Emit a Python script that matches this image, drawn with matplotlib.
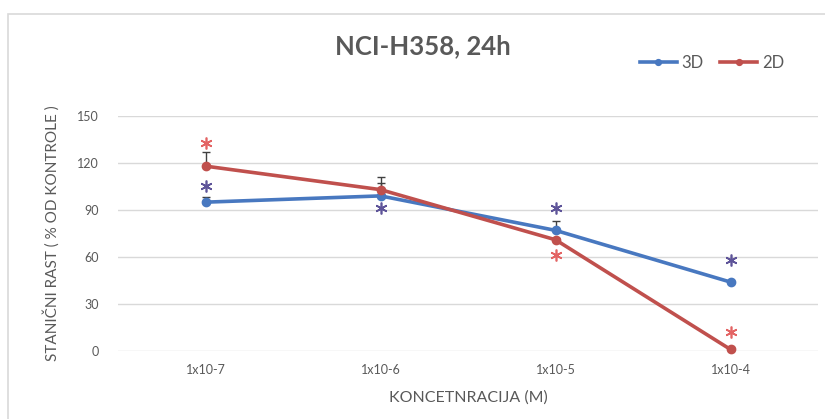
import numpy as np
import matplotlib
matplotlib.use('Agg')
import matplotlib.pyplot as plt
from matplotlib.patches import Rectangle

plt.rcParams['font.family'] = ['Lato', 'DejaVu Sans']

# data
categories = ['1x10-7', '1x10-6', '1x10-5', '1x10-4']
vals_3d = [95, 99, 77, 44]
vals_2d = [118, 103, 71, 1]
err_3d = [3, 8, 6, 1]
err_2d = [9, 8, 1, 1]
star_3d = [105, 91, 91, 58]
star_2d = [133, None, 61, 12]

blue = '#4878c0'
red = '#c0504d'
grey = '#595959'

fig = plt.figure(figsize=(8.25, 4.19), dpi=100)
# light frame like the excel chart area
fig.patches.append(Rectangle((8 / 825, -0.1), 1.2, 1 - 14 / 419 + 0.1,
                             transform=fig.transFigure, fill=False,
                             edgecolor='#d9d9d9', linewidth=1.2))

ax = fig.add_axes([118 / 825, 1 - 351 / 419, 700 / 825, 235 / 419])
x = np.arange(len(categories))

ax.errorbar(x, vals_3d, yerr=[np.zeros(4), err_3d], fmt='none',
            ecolor='#404040', capsize=3, elinewidth=1, zorder=2)
ax.errorbar(x, vals_2d, yerr=[np.zeros(4), err_2d], fmt='none',
            ecolor='#404040', capsize=3, elinewidth=1, zorder=2)
ax.plot(x, vals_3d, color=blue, lw=2.6, marker='o', ms=6, label='3D',
        zorder=3, clip_on=False)
ax.plot(x, vals_2d, color=red, lw=2.6, marker='o', ms=6, label='2D',
        zorder=4, clip_on=False)

for i in range(len(categories)):
    if star_3d[i] is not None:
        ax.plot(x[i], star_3d[i], marker=(6, 2, 0), ms=8.5, mew=1.2,
                color='#5e5499', ls='none', zorder=5)
    if star_2d[i] is not None:
        ax.plot(x[i], star_2d[i], marker=(6, 2, 0), ms=8.5, mew=1.2,
                color='#e36464', ls='none', zorder=5)

ax.set_xlim(-0.5, 3.5)
ax.set_ylim(0, 150)
ax.set_yticks(np.arange(0, 151, 30))
ax.set_xticks(x)
ax.set_xticklabels(categories)
ax.grid(axis='y', color='#d9d9d9', lw=1)
ax.set_axisbelow(True)
for s in ax.spines.values():
    s.set_visible(False)
ax.tick_params(length=0, labelsize=9, labelcolor=grey)
ax.tick_params(axis='y', pad=14)
ax.tick_params(axis='x', pad=9)

ax.set_xlabel('KONCETNRACIJA (M)', fontsize=11.5, color=grey, labelpad=11)
ax.set_ylabel('STANIČNI RAST ( % OD KONTROLE )', fontsize=11, color=grey,
              labelpad=12)

fig.text(423 / 825, 1 - 46 / 419, 'NCI-H358, 24h', ha='center', va='center',
         fontsize=18.5, fontweight='bold', color=grey)

leg = ax.legend(loc='center', bbox_to_anchor=(712 / 825, 1 - 63 / 419),
                bbox_transform=fig.transFigure, ncol=2, frameon=False,
                fontsize=12, handlelength=2.2, columnspacing=1.0,
                handletextpad=0.3, markerscale=0.7)
for t in leg.get_texts():
    t.set_color(grey)

fig.savefig('out.png', dpi=100)
